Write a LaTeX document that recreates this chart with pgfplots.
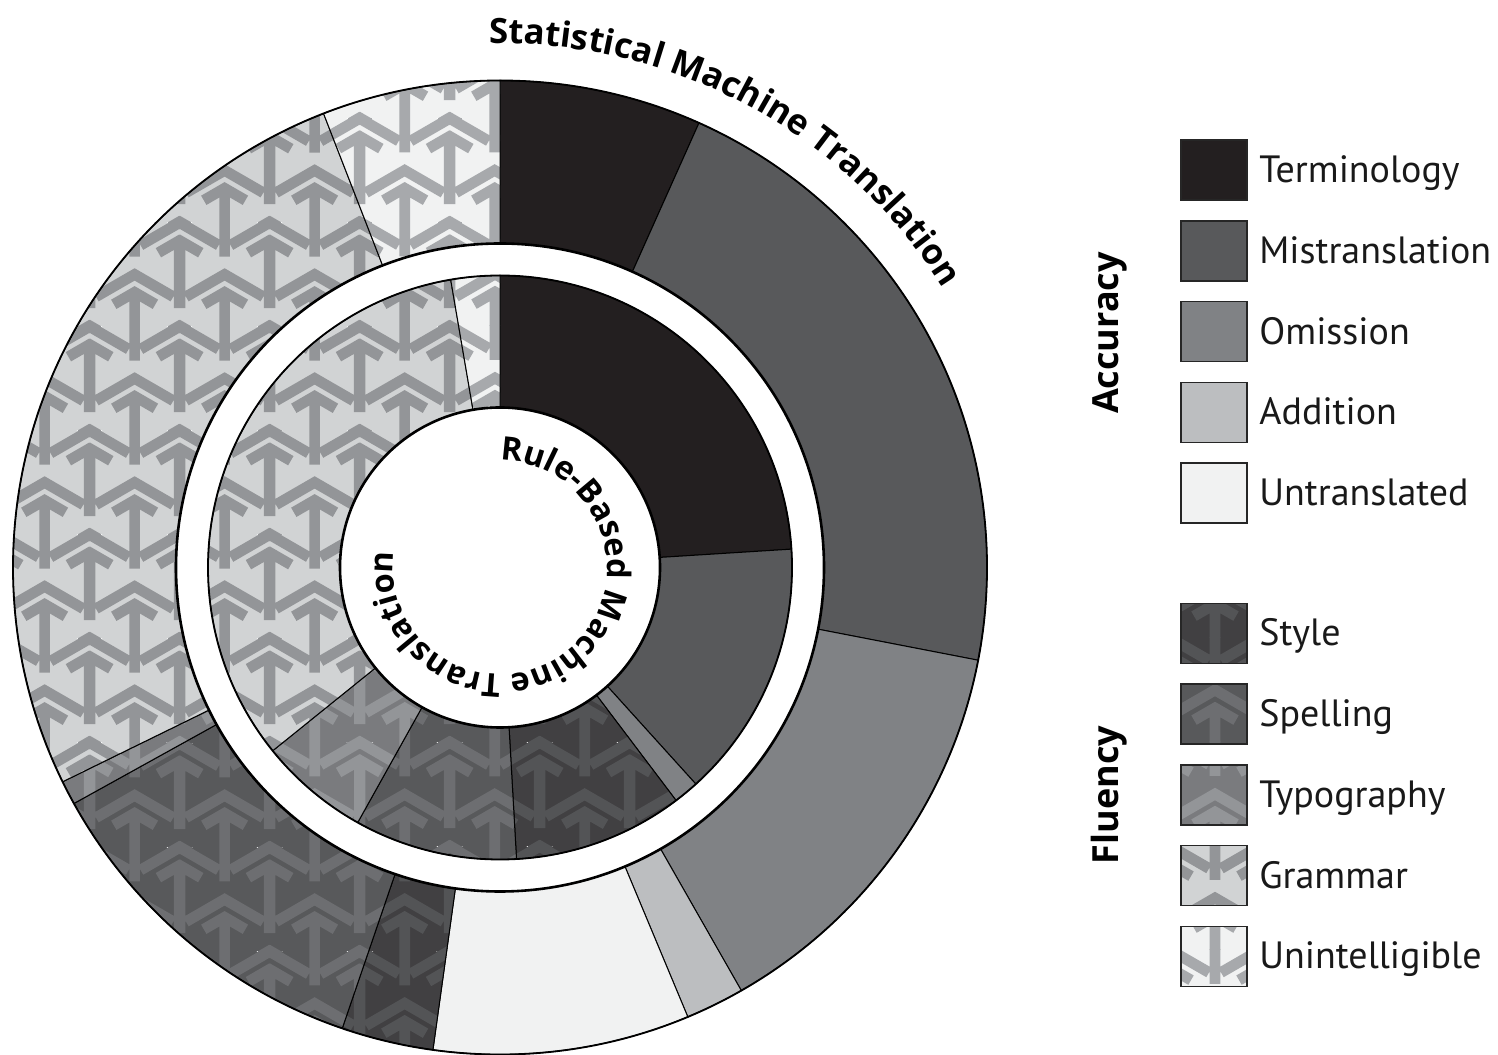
\documentclass[border=0pt]{standalone}
\usepackage{fontspec}
\setmainfont{PT Sans}
\newfontfamily\titlefont{Open Sans}
\usepackage{pgfplots}
\pgfplotsset{compat=1.18}
\usepackage{pgfplotstable}
\usetikzlibrary{patterns,decorations.text}

% one "arrow" motif of the key pattern (units: pt, 1pt = 2px of the reference)
\newcommand\motif[2]{%
  \pgfpathmoveto{\pgfpoint{#1pt-19.5pt}{#2pt-11.25pt}}%
  \pgfpathlineto{\pgfpoint{#1pt}{#2pt}}%
  \pgfpathlineto{\pgfpoint{#1pt+19.5pt}{#2pt-11.25pt}}%
  \pgfpathmoveto{\pgfpoint{#1pt-10.5pt}{#2pt-15.06pt}}%
  \pgfpathlineto{\pgfpoint{#1pt}{#2pt-9pt}}%
  \pgfpathlineto{\pgfpoint{#1pt+10.5pt}{#2pt-15.06pt}}%
  \pgfpathmoveto{\pgfpoint{#1pt}{#2pt-9pt}}%
  \pgfpathlineto{\pgfpoint{#1pt}{#2pt-43pt}}%
}
\pgfdeclarepatternformonly{keyarrows}{\pgfqpoint{0pt}{0pt}}{\pgfqpoint{45pt}{52pt}}{\pgfqpoint{45pt}{52pt}}{%
  \pgfsetlinewidth{5.4pt}%
  \pgfsetmiterjoin
  \motif{0}{0}\motif{45}{0}%
  \motif{-22.5}{26}\motif{22.5}{26}\motif{67.5}{26}%
  \motif{0}{52}\motif{45}{52}%
  \motif{-22.5}{78}\motif{22.5}{78}\motif{67.5}{78}%
  \motif{0}{104}\motif{45}{104}%
  \pgfusepath{stroke}%
}

\definecolor{cTerm}{HTML}{231F20}
\definecolor{cMis}{HTML}{58595B}
\definecolor{cOm}{HTML}{808285}
\definecolor{cAdd}{HTML}{BCBEC0}
\definecolor{cUnt}{HTML}{F1F2F2}
\definecolor{cSty}{HTML}{414042}\definecolor{cStyP}{HTML}{535456}
\definecolor{cSpe}{HTML}{58595B}\definecolor{cSpeP}{HTML}{6D6E71}
\definecolor{cTyp}{HTML}{7A7B7E}\definecolor{cTypP}{HTML}{939598}
\definecolor{cGra}{HTML}{D1D3D4}\definecolor{cGraP}{HTML}{939598}
\definecolor{cUni}{HTML}{F1F2F2}\definecolor{cUniP}{HTML}{A7A9AC}

\tikzset{
  seg0/.style={fill=cTerm},
  seg1/.style={fill=cMis},
  seg2/.style={fill=cOm},
  seg3/.style={fill=cAdd},
  seg4/.style={fill=cUnt},
  seg5/.style={fill=cSty},
  seg6/.style={fill=cSpe},
  seg7/.style={fill=cTyp},
  seg8/.style={fill=cGra},
  seg9/.style={fill=cUni},
  pat5/.style={pattern=keyarrows,pattern color=cStyP},
  pat6/.style={pattern=keyarrows,pattern color=cSpeP},
  pat7/.style={pattern=keyarrows,pattern color=cTypP},
  pat8/.style={pattern=keyarrows,pattern color=cGraP},
  pat9/.style={pattern=keyarrows,pattern color=cUniP},
}

% share of errors (percent) per category
\pgfplotstableread{
cat SMT RBMT
Terminology 6.7 24.0
Mistranslation 21.35 14.3
Omission 13.7 1.4
Addition 1.95 0
Untranslated 8.5 0
Style 3.05 9.4
Spelling 11.7 9.0
Typography 0.8 6.1
Grammar 26.35 33.1
Unintelligible 5.9 2.7
}\errtable

\newcommand\drawring[3]{% #1 column, #2 inner radius, #3 outer radius (px)
  \pgfplotstablegetrowsof{\errtable}%
  \pgfmathtruncatemacro\nrows{\pgfplotsretval-1}%
  \gdef\ringtot{0}%
  \foreach \i in {0,...,\nrows}{%
    \pgfplotstablegetelem{\i}{#1}\of\errtable
    \pgfmathsetmacro\tmpsum{\ringtot+\pgfplotsretval}\xdef\ringtot{\tmpsum}}%
  \gdef\ringcum{0}%
  \foreach \i in {0,...,\nrows}{%
    \pgfplotstablegetelem{\i}{#1}\of\errtable
    \let\segv\pgfplotsretval
    \pgfmathsetmacro\angA{\ringcum/\ringtot*360}%
    \pgfmathsetmacro\angB{(\ringcum+\segv)/\ringtot*360}%
    \pgfmathsetmacro\tmpsum{\ringcum+\segv}\xdef\ringcum{\tmpsum}%
    \edef\segpath{({500+(x<40.5?#3:#2)*sin(x<40.5?\angA+(\angB-\angA)*x/40:\angA+(\angB-\angA)*(81-x)/40)},
         {486.5+(x<40.5?#3:#2)*cos(x<40.5?\angA+(\angB-\angA)*x/40:\angA+(\angB-\angA)*(81-x)/40)}) -- cycle;}%
    \ifdim\segv pt>0pt
      \ifnum\i>4
        \edef\doit{\noexpand\addplot[seg\i,draw=none,domain=0:81,samples=82] \segpath
          \noexpand\addplot[pat\i,draw=black,line width=0.5pt,domain=0:81,samples=82] \segpath}%
      \else
        \edef\doit{\noexpand\addplot[seg\i,draw=black,line width=0.5pt,domain=0:81,samples=82] \segpath}%
      \fi
      \doit
    \fi
  }%
}

\begin{document}
\begin{tikzpicture}
\begin{axis}[x=0.5pt,y=0.5pt,xmin=0,xmax=1498,ymin=0,ymax=1054,
  hide axis,clip=false,scale only axis]
\drawring{SMT}{324}{487}
\drawring{RBMT}{160}{292}
\draw[line width=0.9pt,black] (axis cs:500,486.5) circle[radius=243.5pt];
\draw[line width=1.3pt,black] (axis cs:500,486.5) circle[radius=162pt];
\draw[line width=0.9pt,black] (axis cs:500,486.5) circle[radius=146pt];
\draw[line width=1.3pt,black] (axis cs:500,486.5) circle[radius=80pt];
\path[decorate,decoration={text along path,text align=left,
  text={|\titlefont\bfseries\fontsize{17.4pt}{20pt}\selectfont|Statistical Machine Translation}}]
  (axis cs:500,486.5) ++(91.2:262pt) arc[start angle=91.2,end angle=10,radius=262pt];
\path[decorate,decoration={text along path,text align=left,
  text={|\titlefont\bfseries\fontsize{16.2pt}{19pt}\selectfont|Rule-Based Machine Translation}}]
  (axis cs:500,486.5) ++(89.8:53.5pt) arc[start angle=89.8,end angle=-240,radius=53.5pt];
\end{axis}
\begin{scope}[x=0.5pt,y=-0.5pt,yshift=527pt]
\foreach \i/\name/\yt in {0/Terminology/140,1/Mistranslation/220.8,2/Omission/301.6,
   3/Addition/382.4,4/Untranslated/463.2,5/Style/603.3,6/Spelling/684.1,
   7/Typography/764.9,8/Grammar/845.7,9/Unintelligible/926.5}{
  \path[seg\i] (1181,\yt) rectangle (1247,\yt+60);
  \ifnum\i>4 \path[pat\i] (1181,\yt) rectangle (1247,\yt+60); \fi
  \draw[black!85,line width=0.75pt] (1181,\yt) rectangle (1247,\yt+60);
  \node[anchor=base west,inner sep=0pt,font=\fontsize{19pt}{22pt}\selectfont,text=black!90]
     at (1259,\yt+42.5) {\name};
}
\node[rotate=90,anchor=base,inner sep=0pt,font=\titlefont\bfseries\fontsize{18pt}{22pt}\selectfont]
  at (1118,333) {Accuracy};
\node[rotate=90,anchor=base,inner sep=0pt,font=\titlefont\bfseries\fontsize{18pt}{22pt}\selectfont]
  at (1118,795) {Fluency};
\end{scope}
\pgfresetboundingbox
\useasboundingbox (0,0) rectangle (749pt,527pt);
\end{tikzpicture}
\end{document}
